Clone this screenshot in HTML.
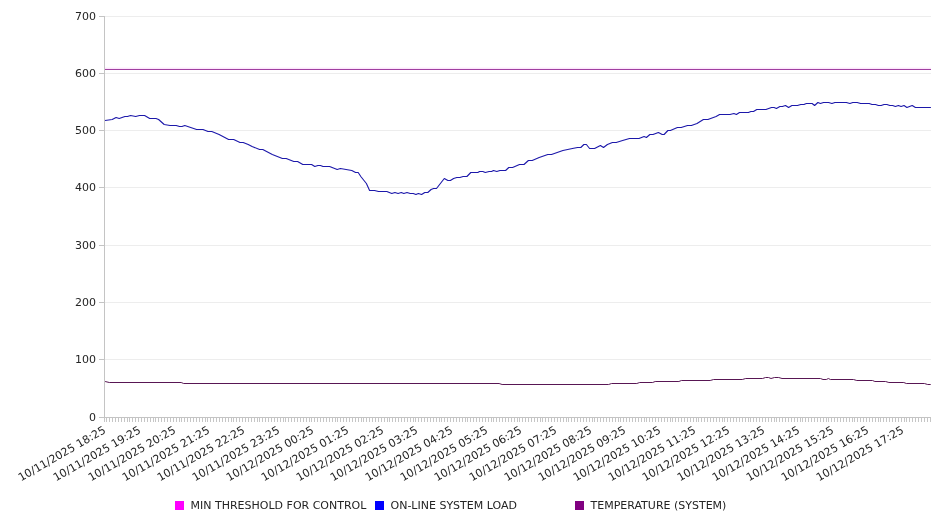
<!DOCTYPE html>
<html><head><meta charset="utf-8"><title>Chart</title>
<style>html,body{margin:0;padding:0;background:#fff;}body{width:946px;height:526px;overflow:hidden;position:relative;font-family:"DejaVu Sans","Liberation Sans",sans-serif;}</style>
</head><body>
<svg width="946" height="526" viewBox="0 0 946 526" style="position:absolute;left:0;top:0">
<g fill="none" shape-rendering="crispEdges">
<line x1="104.5" x2="930.5" y1="16.5" y2="16.5" stroke="#ededed" stroke-width="1"/>
<line x1="104.5" x2="930.5" y1="73.5" y2="73.5" stroke="#ededed" stroke-width="1"/>
<line x1="104.5" x2="930.5" y1="130.5" y2="130.5" stroke="#ededed" stroke-width="1"/>
<line x1="104.5" x2="930.5" y1="187.5" y2="187.5" stroke="#ededed" stroke-width="1"/>
<line x1="104.5" x2="930.5" y1="245.5" y2="245.5" stroke="#ededed" stroke-width="1"/>
<line x1="104.5" x2="930.5" y1="302.5" y2="302.5" stroke="#ededed" stroke-width="1"/>
<line x1="104.5" x2="930.5" y1="359.5" y2="359.5" stroke="#ededed" stroke-width="1"/>
<line x1="104.5" x2="104.5" y1="16" y2="418" stroke="#c4c4c4" stroke-width="1"/>
<line x1="104.5" x2="930.5" y1="417.5" y2="417.5" stroke="#c4c4c4" stroke-width="1"/>
<line x1="99" x2="104.5" y1="16.5" y2="16.5" stroke="#c4c4c4" stroke-width="1"/>
<line x1="99" x2="104.5" y1="73.5" y2="73.5" stroke="#c4c4c4" stroke-width="1"/>
<line x1="99" x2="104.5" y1="130.5" y2="130.5" stroke="#c4c4c4" stroke-width="1"/>
<line x1="99" x2="104.5" y1="187.5" y2="187.5" stroke="#c4c4c4" stroke-width="1"/>
<line x1="99" x2="104.5" y1="245.5" y2="245.5" stroke="#c4c4c4" stroke-width="1"/>
<line x1="99" x2="104.5" y1="302.5" y2="302.5" stroke="#c4c4c4" stroke-width="1"/>
<line x1="99" x2="104.5" y1="359.5" y2="359.5" stroke="#c4c4c4" stroke-width="1"/>
<line x1="99" x2="104.5" y1="417.5" y2="417.5" stroke="#c4c4c4" stroke-width="1"/>
</g>
<path d="M104.5,417.5V422M106.5,417.5V422M109.5,417.5V422M112.5,417.5V422M115.5,417.5V422M118.5,417.5V422M121.5,417.5V422M124.5,417.5V422M127.5,417.5V422M129.5,417.5V422M132.5,417.5V422M135.5,417.5V422M138.5,417.5V422M141.5,417.5V422M144.5,417.5V422M147.5,417.5V422M150.5,417.5V422M153.5,417.5V422M155.5,417.5V422M158.5,417.5V422M161.5,417.5V422M164.5,417.5V422M167.5,417.5V422M170.5,417.5V422M173.5,417.5V422M176.5,417.5V422M179.5,417.5V422M181.5,417.5V422M184.5,417.5V422M187.5,417.5V422M190.5,417.5V422M193.5,417.5V422M196.5,417.5V422M199.5,417.5V422M202.5,417.5V422M205.5,417.5V422M207.5,417.5V422M210.5,417.5V422M213.5,417.5V422M216.5,417.5V422M219.5,417.5V422M222.5,417.5V422M225.5,417.5V422M228.5,417.5V422M231.5,417.5V422M233.5,417.5V422M236.5,417.5V422M239.5,417.5V422M242.5,417.5V422M245.5,417.5V422M248.5,417.5V422M251.5,417.5V422M254.5,417.5V422M257.5,417.5V422M259.5,417.5V422M262.5,417.5V422M265.5,417.5V422M268.5,417.5V422M271.5,417.5V422M274.5,417.5V422M277.5,417.5V422M280.5,417.5V422M283.5,417.5V422M285.5,417.5V422M288.5,417.5V422M291.5,417.5V422M294.5,417.5V422M297.5,417.5V422M300.5,417.5V422M303.5,417.5V422M306.5,417.5V422M309.5,417.5V422M311.5,417.5V422M314.5,417.5V422M317.5,417.5V422M320.5,417.5V422M323.5,417.5V422M326.5,417.5V422M329.5,417.5V422M332.5,417.5V422M335.5,417.5V422M337.5,417.5V422M340.5,417.5V422M343.5,417.5V422M346.5,417.5V422M349.5,417.5V422M352.5,417.5V422M355.5,417.5V422M358.5,417.5V422M361.5,417.5V422M363.5,417.5V422M366.5,417.5V422M369.5,417.5V422M372.5,417.5V422M375.5,417.5V422M378.5,417.5V422M381.5,417.5V422M384.5,417.5V422M387.5,417.5V422M389.5,417.5V422M392.5,417.5V422M395.5,417.5V422M398.5,417.5V422M401.5,417.5V422M404.5,417.5V422M407.5,417.5V422M410.5,417.5V422M413.5,417.5V422M415.5,417.5V422M418.5,417.5V422M421.5,417.5V422M424.5,417.5V422M427.5,417.5V422M430.5,417.5V422M433.5,417.5V422M436.5,417.5V422M439.5,417.5V422M441.5,417.5V422M444.5,417.5V422M447.5,417.5V422M450.5,417.5V422M453.5,417.5V422M456.5,417.5V422M459.5,417.5V422M462.5,417.5V422M465.5,417.5V422M467.5,417.5V422M470.5,417.5V422M473.5,417.5V422M476.5,417.5V422M479.5,417.5V422M482.5,417.5V422M485.5,417.5V422M488.5,417.5V422M491.5,417.5V422M493.5,417.5V422M496.5,417.5V422M499.5,417.5V422M502.5,417.5V422M505.5,417.5V422M508.5,417.5V422M511.5,417.5V422M514.5,417.5V422M517.5,417.5V422M519.5,417.5V422M522.5,417.5V422M525.5,417.5V422M528.5,417.5V422M531.5,417.5V422M534.5,417.5V422M537.5,417.5V422M540.5,417.5V422M542.5,417.5V422M545.5,417.5V422M548.5,417.5V422M551.5,417.5V422M554.5,417.5V422M557.5,417.5V422M560.5,417.5V422M563.5,417.5V422M566.5,417.5V422M568.5,417.5V422M571.5,417.5V422M574.5,417.5V422M577.5,417.5V422M580.5,417.5V422M583.5,417.5V422M586.5,417.5V422M589.5,417.5V422M592.5,417.5V422M594.5,417.5V422M597.5,417.5V422M600.5,417.5V422M603.5,417.5V422M606.5,417.5V422M609.5,417.5V422M612.5,417.5V422M615.5,417.5V422M618.5,417.5V422M620.5,417.5V422M623.5,417.5V422M626.5,417.5V422M629.5,417.5V422M632.5,417.5V422M635.5,417.5V422M638.5,417.5V422M641.5,417.5V422M644.5,417.5V422M646.5,417.5V422M649.5,417.5V422M652.5,417.5V422M655.5,417.5V422M658.5,417.5V422M661.5,417.5V422M664.5,417.5V422M667.5,417.5V422M670.5,417.5V422M672.5,417.5V422M675.5,417.5V422M678.5,417.5V422M681.5,417.5V422M684.5,417.5V422M687.5,417.5V422M690.5,417.5V422M693.5,417.5V422M696.5,417.5V422M698.5,417.5V422M701.5,417.5V422M704.5,417.5V422M707.5,417.5V422M710.5,417.5V422M713.5,417.5V422M716.5,417.5V422M719.5,417.5V422M722.5,417.5V422M724.5,417.5V422M727.5,417.5V422M730.5,417.5V422M733.5,417.5V422M736.5,417.5V422M739.5,417.5V422M742.5,417.5V422M745.5,417.5V422M748.5,417.5V422M750.5,417.5V422M753.5,417.5V422M756.5,417.5V422M759.5,417.5V422M762.5,417.5V422M765.5,417.5V422M768.5,417.5V422M771.5,417.5V422M774.5,417.5V422M776.5,417.5V422M779.5,417.5V422M782.5,417.5V422M785.5,417.5V422M788.5,417.5V422M791.5,417.5V422M794.5,417.5V422M797.5,417.5V422M800.5,417.5V422M802.5,417.5V422M805.5,417.5V422M808.5,417.5V422M811.5,417.5V422M814.5,417.5V422M817.5,417.5V422M820.5,417.5V422M823.5,417.5V422M826.5,417.5V422M828.5,417.5V422M831.5,417.5V422M834.5,417.5V422M837.5,417.5V422M840.5,417.5V422M843.5,417.5V422M846.5,417.5V422M849.5,417.5V422M852.5,417.5V422M854.5,417.5V422M857.5,417.5V422M860.5,417.5V422M863.5,417.5V422M866.5,417.5V422M869.5,417.5V422M872.5,417.5V422M875.5,417.5V422M878.5,417.5V422M880.5,417.5V422M883.5,417.5V422M886.5,417.5V422M889.5,417.5V422M892.5,417.5V422M895.5,417.5V422M898.5,417.5V422M901.5,417.5V422M904.5,417.5V422M906.5,417.5V422M909.5,417.5V422M912.5,417.5V422M915.5,417.5V422M918.5,417.5V422M921.5,417.5V422M924.5,417.5V422M927.5,417.5V422M930.5,417.5V422" stroke="#c6c6c6" stroke-width="1" fill="none" shape-rendering="crispEdges"/>
<line x1="104.5" x2="931.0" y1="68.5" y2="68.5" stroke="#fce6fc" stroke-width="1" shape-rendering="crispEdges"/>
<line x1="104.5" x2="931.0" y1="67.5" y2="67.5" stroke="#fef5fe" stroke-width="1" shape-rendering="crispEdges"/>
<line x1="104.5" x2="931.0" y1="69.5" y2="69.5" stroke="#a040a0" stroke-width="1" shape-rendering="crispEdges"/>
<polyline points="105.0,120.5 112.2,119.5 116.1,117.5 119.2,118.5 124.9,116.5 127.5,116.5 130.6,115.5 135.7,116.5 139.5,115.5 144.6,115.5 149.7,118.5 156.0,118.5 158.6,119.5 164.2,124.5 170.0,125.5 176.2,125.5 179.5,126.5 182.0,126.5 184.8,125.5 196.6,129.5 203.0,129.5 208.0,131.5 211.8,131.5 219.1,134.5 228.6,139.5 233.7,139.5 240.0,142.5 243.2,142.5 248.2,144.5 252.1,146.5 259.6,149.5 262.8,149.5 272.3,154.5 282.4,158.5 286.2,158.5 293.8,161.5 297.6,161.5 302.8,164.5 311.6,164.5 314.8,166.5 317.9,165.5 320.5,165.5 323.0,166.5 329.6,166.5 337.2,169.5 340.4,168.5 351.8,170.5 355.6,172.5 358.2,172.5 360.8,176.5 366.4,183.5 369.6,190.5 374.6,190.5 378.5,191.5 386.8,191.5 391.8,193.5 394.9,192.5 398.1,193.5 401.3,192.5 403.8,193.5 407.0,192.5 410.2,193.5 413.3,193.5 415.9,194.5 418.4,193.5 421.6,194.5 424.8,192.5 427.8,192.5 431.1,189.5 433.6,188.5 436.5,188.5 444.3,178.5 447.9,180.5 450.4,180.5 453.6,178.5 456.8,177.5 459.9,177.5 463.1,176.5 466.9,176.5 470.8,172.5 477.8,172.5 479.6,171.5 482.8,171.5 485.3,172.5 489.1,171.5 491.6,171.5 493.5,170.5 496.8,171.5 499.9,170.5 505.6,170.5 508.8,167.5 512.6,167.5 519.5,164.5 524.0,164.5 528.4,160.5 532.2,160.5 539.2,157.5 547.8,154.5 551.5,154.5 562.9,150.5 572.4,148.5 577.5,147.5 580.8,147.5 583.9,144.5 586.4,144.5 589.6,148.5 594.6,148.5 600.4,145.5 603.5,147.5 607.4,144.5 612.4,142.5 616.2,142.5 622.6,140.5 629.5,138.5 639.0,138.5 644.1,136.5 646.4,137.5 649.9,134.5 653.0,134.5 658.4,132.5 662.2,134.5 664.1,134.5 667.9,130.5 670.4,130.5 677.4,127.5 681.2,127.5 687.5,125.5 691.4,125.5 697.0,123.5 703.4,119.5 707.9,119.5 716.1,116.5 719.6,114.5 730.0,114.5 733.9,113.5 736.4,114.5 739.5,112.5 748.4,112.5 750.9,111.5 753.5,111.5 756.8,109.5 765.9,109.5 771.5,107.5 774.1,107.5 776.4,108.5 779.9,106.5 782.4,106.5 785.5,105.5 788.6,107.5 791.9,105.5 797.5,105.5 800.8,104.5 803.9,104.5 806.4,103.5 812.1,103.5 814.6,105.5 817.9,102.5 820.4,103.5 823.5,102.5 828.6,102.5 831.9,103.5 834.9,102.5 846.4,102.5 849.9,103.5 852.8,102.5 857.2,102.5 860.6,103.5 869.2,103.5 872.0,104.5 875.5,104.5 878.4,105.5 881.2,105.5 884.0,104.5 886.9,104.5 889.8,105.5 892.6,105.5 895.4,106.5 898.4,105.5 901.1,106.5 904.0,105.5 906.9,107.5 912.2,105.5 915.4,107.5 930.9,107.5" fill="none" stroke="#1c18aa" stroke-width="1.1" stroke-linejoin="round"/>
<polyline points="105.1,381.5 109.3,382.5 181.2,382.5 183.7,383.5 499.1,383.5 502.1,384.5 608.6,384.5 611.6,383.5 636.8,383.5 639.7,382.5 652.7,382.5 655.2,381.5 678.9,381.5 681.4,380.5 710.2,380.5 713.6,379.5 742.3,379.5 745.7,378.5 762.6,378.5 765.5,377.5 768.5,377.5 771.0,378.5 774.5,377.5 778.7,377.5 782.0,378.5 820.5,378.5 823.0,379.5 826.3,379.5 828.4,378.5 830.4,379.5 853.5,379.5 856.8,380.5 872.5,380.5 874.9,381.5 885.6,381.5 888.9,382.5 903.8,382.5 906.3,383.5 924.4,383.5 927.7,384.5 930.7,384.5" fill="none" stroke="#581654" stroke-width="1" stroke-linejoin="round"/>
<g font-family="'DejaVu Sans', sans-serif" font-size="11" fill="#242424">
<text x="96" y="19.5" text-anchor="end">700</text>
<text x="96" y="76.5" text-anchor="end">600</text>
<text x="96" y="133.5" text-anchor="end">500</text>
<text x="96" y="190.5" text-anchor="end">400</text>
<text x="96" y="248.5" text-anchor="end">300</text>
<text x="96" y="305.5" text-anchor="end">200</text>
<text x="96" y="362.5" text-anchor="end">100</text>
<text x="96" y="420.5" text-anchor="end">0</text>
<text transform="translate(106.45,432.2) rotate(-30)" text-anchor="end">10/11/2025 18:25</text>
<text transform="translate(141.45,432.2) rotate(-30)" text-anchor="end">10/11/2025 19:25</text>
<text transform="translate(176.45,432.2) rotate(-30)" text-anchor="end">10/11/2025 20:25</text>
<text transform="translate(210.45,432.2) rotate(-30)" text-anchor="end">10/11/2025 21:25</text>
<text transform="translate(245.45,432.2) rotate(-30)" text-anchor="end">10/11/2025 22:25</text>
<text transform="translate(280.45,432.2) rotate(-30)" text-anchor="end">10/11/2025 23:25</text>
<text transform="translate(314.45,432.2) rotate(-30)" text-anchor="end">10/12/2025 00:25</text>
<text transform="translate(349.45,432.2) rotate(-30)" text-anchor="end">10/12/2025 01:25</text>
<text transform="translate(384.45,432.2) rotate(-30)" text-anchor="end">10/12/2025 02:25</text>
<text transform="translate(418.45,432.2) rotate(-30)" text-anchor="end">10/12/2025 03:25</text>
<text transform="translate(453.45,432.2) rotate(-30)" text-anchor="end">10/12/2025 04:25</text>
<text transform="translate(488.45,432.2) rotate(-30)" text-anchor="end">10/12/2025 05:25</text>
<text transform="translate(522.45,432.2) rotate(-30)" text-anchor="end">10/12/2025 06:25</text>
<text transform="translate(557.45,432.2) rotate(-30)" text-anchor="end">10/12/2025 07:25</text>
<text transform="translate(592.45,432.2) rotate(-30)" text-anchor="end">10/12/2025 08:25</text>
<text transform="translate(626.45,432.2) rotate(-30)" text-anchor="end">10/12/2025 09:25</text>
<text transform="translate(661.45,432.2) rotate(-30)" text-anchor="end">10/12/2025 10:25</text>
<text transform="translate(696.45,432.2) rotate(-30)" text-anchor="end">10/12/2025 11:25</text>
<text transform="translate(730.45,432.2) rotate(-30)" text-anchor="end">10/12/2025 12:25</text>
<text transform="translate(765.45,432.2) rotate(-30)" text-anchor="end">10/12/2025 13:25</text>
<text transform="translate(800.45,432.2) rotate(-30)" text-anchor="end">10/12/2025 14:25</text>
<text transform="translate(834.45,432.2) rotate(-30)" text-anchor="end">10/12/2025 15:25</text>
<text transform="translate(869.45,432.2) rotate(-30)" text-anchor="end">10/12/2025 16:25</text>
<text transform="translate(904.45,432.2) rotate(-30)" text-anchor="end">10/12/2025 17:25</text>
<rect x="175" y="501" width="9" height="9" fill="#FF00FF"/>
<text x="190.5" y="509.2">MIN THRESHOLD FOR CONTROL</text>
<rect x="375" y="501" width="9" height="9" fill="#0000FF"/>
<text x="390.5" y="509.2">ON-LINE SYSTEM LOAD</text>
<rect x="575" y="501" width="9" height="9" fill="#800080"/>
<text x="590.5" y="509.2">TEMPERATURE (SYSTEM)</text>
</g></svg>
</body></html>
